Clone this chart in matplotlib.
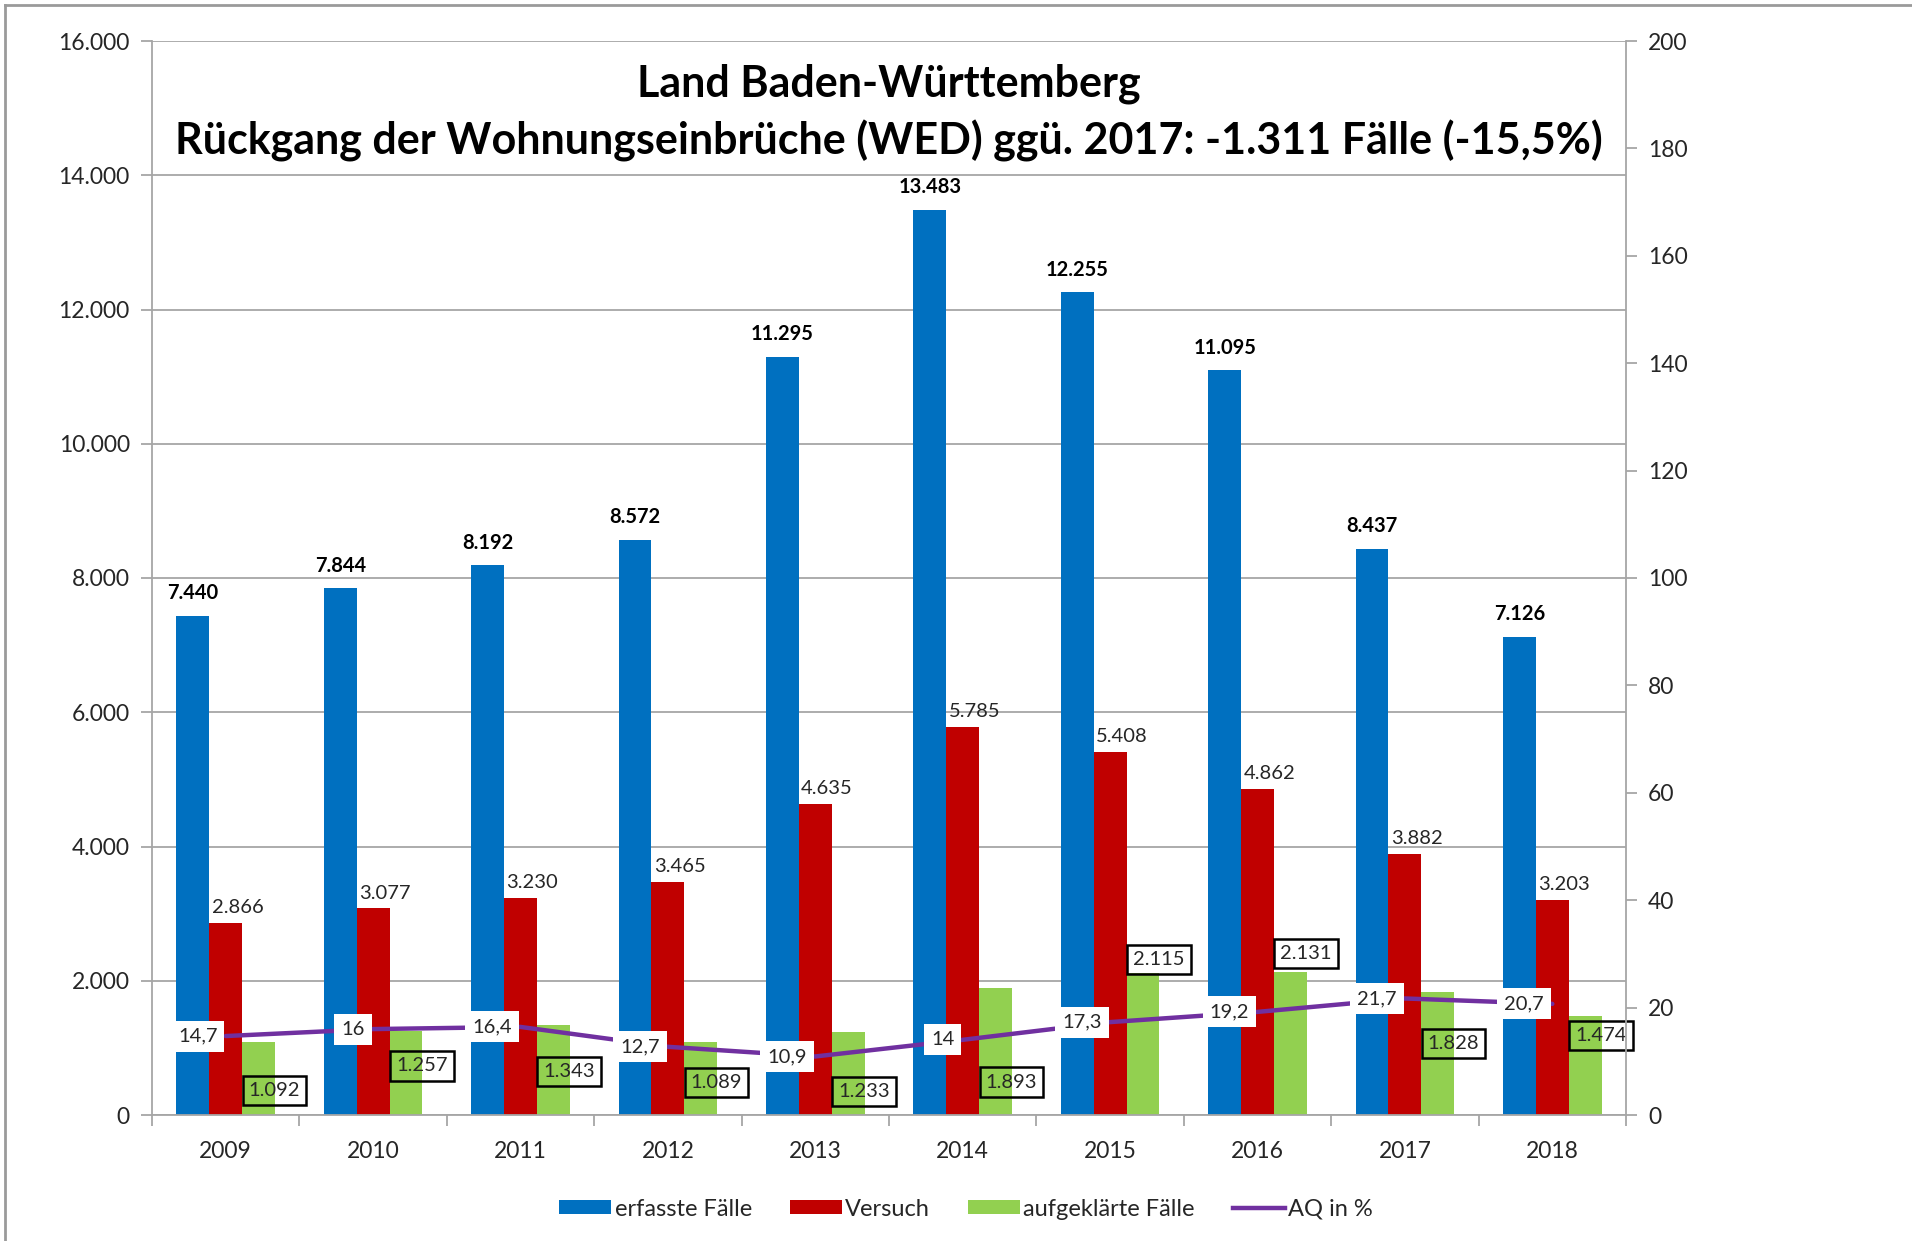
import matplotlib.pyplot as plt
import numpy as np
from matplotlib.lines import Line2D
from matplotlib.patches import Patch

plt.rcParams["font.family"] = ["Lato", "DejaVu Sans"]

years = ["2009", "2010", "2011", "2012", "2013", "2014", "2015", "2016", "2017", "2018"]
erfasst = [7440, 7844, 8192, 8572, 11295, 13483, 12255, 11095, 8437, 7126]
versuch = [2866, 3077, 3230, 3465, 4635, 5785, 5408, 4862, 3882, 3203]
aufgeklaert = [1092, 1257, 1343, 1089, 1233, 1893, 2115, 2131, 1828, 1474]
aq = [14.7, 16, 16.4, 12.7, 10.9, 14, 17.3, 19.2, 21.7, 20.7]
# hand-placed heights of the boxed green labels (left-axis units)
green_label_y = [360, 730, 650, 486, 345, 491, 2315, 2404, 1069, 1182]

BLUE = "#0070C0"
RED = "#C00000"
GREEN = "#92D050"
PURPLE = "#7030A0"
GRID = "#A6A6A6"
TXT = "#262626"


def de(v, dec=0):
    s = f"{v:,.{dec}f}"
    return s.replace(",", "X").replace(".", ",").replace("X", ".")


W, H = 1912, 1241
fig = plt.figure(figsize=(W / 100, H / 100), dpi=100)
ax = fig.add_axes([152 / W, 1 - 1115 / H, (1626 - 152) / W, (1115 - 41) / H])
ax2 = ax.twinx()

x = np.arange(len(years))
bw = 0.223
ax.bar(x - bw, erfasst, bw, color=BLUE, zorder=2)
ax.bar(x, versuch, bw, color=RED, zorder=2)
ax.bar(x + bw, aufgeklaert, bw, color=GREEN, zorder=2)

ax.set_xlim(-0.5, len(years) - 0.5)
ax.set_ylim(0, 16000)
ax.set_yticks(np.arange(0, 16001, 2000))
ax.set_yticklabels([de(v) for v in np.arange(0, 16001, 2000)])
ax.yaxis.grid(True, color=GRID, lw=1.3, zorder=0)
ax.set_axisbelow(True)

ax.set_xticks(x)
ax.set_xticklabels(years)
ax.set_xticks(np.arange(-0.5, len(years)), minor=True)
ax.tick_params(axis="x", which="major", length=0, pad=19, labelsize=16.5, labelcolor=TXT)
ax.tick_params(axis="x", which="minor", length=8, width=1.3, color=GRID)
ax.tick_params(axis="y", length=8, width=1.3, color=GRID, labelsize=16.5, labelcolor=TXT, pad=8)

for s in ["top", "right"]:
    ax.spines[s].set_visible(False)
for s in ["left", "bottom"]:
    ax.spines[s].set_color(GRID)
    ax.spines[s].set_linewidth(1.3)

# secondary axis for AQ
ax2.set_ylim(0, 200)
ax2.set_yticks(np.arange(0, 201, 20))
ax2.tick_params(axis="y", length=8, width=1.3, color=GRID, labelsize=16.5, labelcolor=TXT, pad=8)
for s in ["top", "left", "bottom"]:
    ax2.spines[s].set_visible(False)
ax2.spines["right"].set_color(GRID)
ax2.spines["right"].set_linewidth(1.3)
ax2.plot(x, aq, color=PURPLE, lw=3.2, solid_capstyle="round", zorder=3)

# data labels
for i in range(len(years)):
    ax.annotate(de(erfasst[i]), (x[i] - bw, erfasst[i]), xytext=(0, 9),
                textcoords="offset points", ha="center", va="bottom",
                fontsize=14.5, fontweight="bold", color="black", zorder=5)
    ax.annotate(de(versuch[i]), (x[i] + 0.08, versuch[i]), xytext=(0, 5),
                textcoords="offset points", ha="center", va="bottom",
                fontsize=14.5, color=TXT, zorder=5)
    ax.text(x[i] + 0.33, green_label_y[i], de(aufgeklaert[i]), ha="center", va="center",
            fontsize=14.5, color=TXT, zorder=5,
            bbox=dict(boxstyle="square,pad=0.3", facecolor="none", edgecolor="black", lw=1.8))
    ax2.annotate(de(aq[i], 0 if aq[i] == int(aq[i]) else 1), (x[i], aq[i]), xytext=(-6, 0),
                 textcoords="offset points", ha="right", va="center",
                 fontsize=14.5, color=TXT, zorder=6,
                 bbox=dict(boxstyle="square,pad=0.35", facecolor="white", edgecolor="none"))

fig.text(889 / W, 1 - 113 / H,
         "Land Baden-Württemberg\nRückgang der Wohnungseinbrüche (WED) ggü. 2017: -1.311 Fälle (-15,5%)",
         ha="center", va="center", fontsize=31, fontweight="bold", color="black",
         linespacing=1.45, zorder=10)

handles = [
    Patch(facecolor=BLUE, label="erfasste Fälle"),
    Patch(facecolor=RED, label="Versuch"),
    Patch(facecolor=GREEN, label="aufgeklärte Fälle"),
    Line2D([], [], color=PURPLE, lw=3.2, label="AQ in %"),
]
fig.legend(handles=handles, loc="center", bbox_to_anchor=(966 / W, 1 - 1209 / H), ncol=4,
           frameon=False, fontsize=17, handlelength=2.2, handleheight=0.55,
           handletextpad=0.15, columnspacing=1.6, labelcolor=TXT)

# outer frame lines (left and top)
fig.add_artist(Line2D([5 / W, 5 / W], [0, 1 - 5 / H], color="#9A9A9A", lw=2, transform=fig.transFigure))
fig.add_artist(Line2D([5 / W, 1], [1 - 5 / H, 1 - 5 / H], color="#9A9A9A", lw=2, transform=fig.transFigure))

fig.savefig("out.png", dpi=100, facecolor="white")
